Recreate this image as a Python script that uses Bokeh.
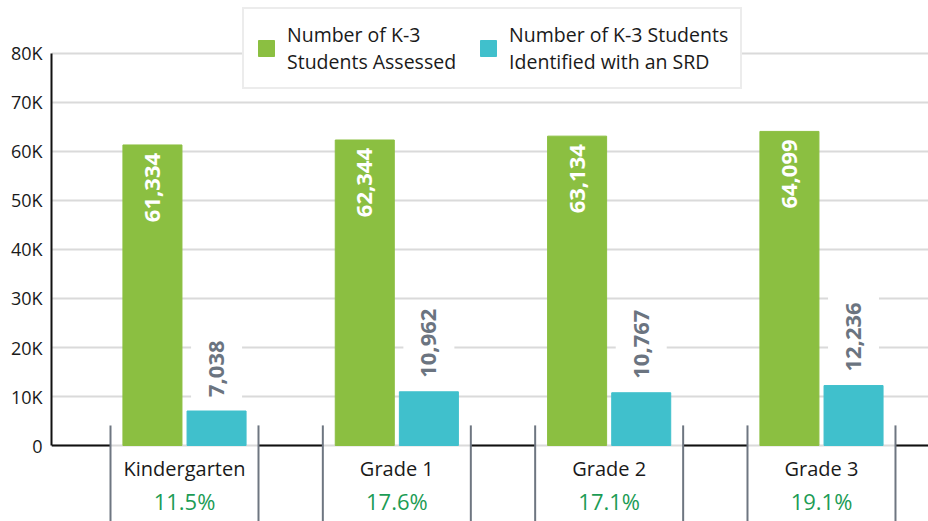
import math
from bokeh.plotting import figure
from bokeh.models import (Range1d, LinearAxis, FixedTicker, Grid, Legend, LegendItem,
                          ColumnDataSource)
from bokeh.core.properties import value
from bokeh.embed import file_html
from bokeh.resources import INLINE

# ---- data ----
categories = ["Kindergarten", "Grade 1", "Grade 2", "Grade 3"]
assessed = [61334, 62344, 63134, 64099]
identified = [7038, 10962, 10767, 12236]
y_ticks = [0, 10000, 20000, 30000, 40000, 50000, 60000, 70000, 80000]
y_tick_labels = ["0", "10K", "20K", "30K", "40K", "50K", "60K", "70K", "80K"]
series_names = ["Number of K-3\nStudents Assessed", "Number of K-3 Students\nIdentified with an SRD"]

pct = ["{:.1f}%".format(100.0 * b / a) for a, b in zip(assessed, identified)]

FONT = "Open Sans"
GREEN = "#8BBF41"
TEAL = "#40C0CC"
PCT_GREEN = "#1C9C55"
SEP_GRAY = "#6E7681"
GRID_GRAY = "#DADADA"

n = len(categories)
xc = list(range(n))
off = 0.151
bw = 0.278
half_box = 0.3485

x_start, x_end = -0.6264, 3.504
y_start, y_end = -15510, 90816

p = figure(width=928, height=521, x_range=Range1d(x_start, x_end),
           y_range=Range1d(y_start, y_end), output_backend="svg",
           toolbar_location=None, min_border_left=51, min_border_right=0,
           min_border_top=0, min_border_bottom=0, x_axis_type=None,
           y_axis_type=None, outline_line_color=None)

ticker = FixedTicker(ticks=y_ticks)
grid = Grid(dimension=1, ticker=ticker, grid_line_color=GRID_GRAY, grid_line_width=2)
p.add_layout(grid)

yaxis = LinearAxis(ticker=ticker, bounds=(0, 80000),
                   major_label_overrides={t: l for t, l in zip(y_ticks, y_tick_labels)},
                   major_tick_in=0, major_tick_out=0, minor_tick_in=0, minor_tick_out=0,
                   major_label_standoff=9, axis_line_color="#111111", axis_line_width=2,
                   major_label_text_font=FONT, major_label_text_font_size="18px",
                   major_label_text_color="#1a1a1a")
p.add_layout(yaxis, "left")

# black baseline between label boxes
bx0 = [x_start] + [c + half_box for c in xc]
bx1 = [c - half_box for c in xc] + [x_end]
p.segment(x0=bx0, x1=bx1, y0=[0] * len(bx0), y1=[0] * len(bx0),
          line_color="#111111", line_width=2)

# separators of the category boxes
sep_x = [c + s * half_box for c in xc for s in (-1, 1)]
p.segment(x0=sep_x, x1=sep_x, y0=[4100] * len(sep_x), y1=[y_start] * len(sep_x),
          line_color=SEP_GRAY, line_width=2)

src = ColumnDataSource(dict(
    xg=[c - off for c in xc], xt=[c + off for c in xc], xc=xc,
    assessed=assessed, identified=identified,
    lab_a=["{:,}".format(v) for v in assessed],
    lab_i=["{:,}".format(v) for v in identified],
    cat=categories, pct=pct))

r1 = p.vbar(x="xg", top="assessed", bottom=0, width=bw, color=GREEN, source=src)
r2 = p.vbar(x="xt", top="identified", bottom=0, width=bw, color=TEAL, source=src)

p.text(x="xg", y="assessed", text="lab_a", angle=math.pi / 2, text_align="right",
       text_baseline="middle", y_offset=8, text_color="white",
       text_font=value(FONT), text_font_size="22px", text_font_style="bold", source=src)
p.text(x="xt", y="identified", text="lab_i", angle=math.pi / 2, text_align="left",
       text_baseline="middle", y_offset=-10, text_color="#6B7480",
       text_font=value(FONT), text_font_size="22px", text_font_style="bold",
       background_fill_color="white",
       padding=dict(left=4, right=6, top=18, bottom=18), source=src)

p.text(x="xc", y=0, text="cat", text_align="center", text_baseline="middle",
       y_offset=23, text_color="#1a1a1a", text_font=value(FONT),
       text_font_size="20px", source=src)
p.text(x="xc", y=0, text="pct", text_align="center", text_baseline="middle",
       y_offset=55, text_color=PCT_GREEN, text_font=value(FONT),
       text_font_size="22px", source=src)

legend = Legend(items=[LegendItem(label=series_names[0], renderers=[r1]),
                       LegendItem(label=series_names[1], renderers=[r2])],
                location=(191, 432), orientation="horizontal",
                glyph_width=20, glyph_height=20, label_standoff=11, spacing=22,
                padding=12, margin=0, border_line_color=GRID_GRAY, border_line_width=2,
                background_fill_color="white", background_fill_alpha=1.0,
                label_text_font=FONT, label_text_font_size="19.5px",
                label_text_color="#1a1a1a")
p.add_layout(legend)

open("out.html", "w").write(file_html(p, INLINE))
